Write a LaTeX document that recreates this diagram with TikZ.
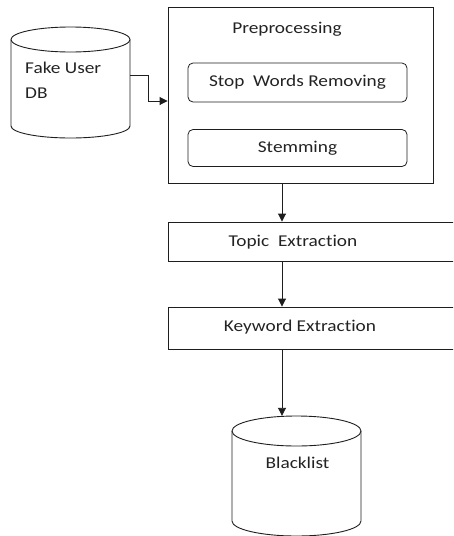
\documentclass[tikz,border=0pt]{standalone}
\usepackage{fontspec}
\setmainfont{Carlito}[FakeStretch=1.17, Ligatures={NoCommon}]
\usepackage{tikz}
\usetikzlibrary{arrows.meta, positioning, calc}
\definecolor{linegray}{RGB}{30,30,30}
\definecolor{textgray}{RGB}{35,35,35}
\tikzstyle{stage} = [rectangle, draw=linegray, line width=0.9pt, inner sep=0pt]
\tikzstyle{sub}   = [rectangle, rounded corners=5pt, draw=linegray, line width=0.8pt,
                     minimum width=219, inner sep=0pt]
\tikzstyle{cyl}   = [draw=linegray, line width=0.9pt]
\tikzstyle{arr}   = [-{Triangle[length=8pt, width=8pt]}, draw=linegray, line width=0.9pt]

\begin{document}
\begin{tikzpicture}[x=1pt, y=-1pt,
    every node/.style={font=\fontsize{16.5}{25}\selectfont, text=textgray},
    txt/.style={inner sep=0pt, align=left},
  ]
  \path[use as bounding box, clip] (0,0) rectangle (453,536);
  \coordinate (spine) at (282,0);

  % fake user database
  \draw[cyl] (11,39.5) -- (11,126) arc[start angle=180, end angle=0, x radius=59.5, y radius=12] -- (130,39.5);
  \draw[cyl] (70.5,39.5) ellipse[x radius=59.5, y radius=12.5];
  \node[minimum width=119, minimum height=100] (db) at (70.5,75) {};
  \node[txt, anchor=base west] (dbtxt) at (25,98.3) {Fake User\\DB};

  % preprocessing block
  \node[stage, minimum width=265, minimum height=176] (prep) at (300.5,95) {};
  \node[txt, anchor=base] (preptitle) at (287,33.3) {Preprocessing};
  \node[sub, minimum height=39] (stop) at (297.5,82.5) {Stop\ \ Words Removing};
  \node[sub, minimum height=37] (stem) at (297.5,148) {Stemming};

  % extraction steps
  \node[stage, minimum width=400, minimum height=39] (topic) at (368,241.5) {};
  \node[txt, anchor=base] (topictxt) at (293,246.7) {Topic\ \ Extraction};
  \node[stage, minimum width=400, minimum height=42] (keyword) at (368,328) {};
  \node[txt, anchor=base] (keywordtxt) at (300,331.7) {Keyword Extraction};

  % blacklist database
  \draw[cyl] (232,431) -- (232,521) arc[start angle=180, end angle=0, x radius=64.5, y radius=15] -- (361,431);
  \draw[cyl] (296.5,431) ellipse[x radius=64.5, y radius=15];
  \node[minimum width=129, minimum height=120] (blk) at (296.5,476) {};
  \node[txt, anchor=base] (blktxt) at (297.5,468.3) {Blacklist};

  \draw[arr] (db.east) -- ++(18,0) |- ([yshift=-6pt]prep.west);
  \draw[arr] (prep.south -| spine) -- (topic.north -| spine);
  \draw[arr] (topic.south -| spine) -- (keyword.north -| spine);
  \draw[arr] (keyword.south -| spine) -- (blk.north -| spine);
\end{tikzpicture}
\end{document}
